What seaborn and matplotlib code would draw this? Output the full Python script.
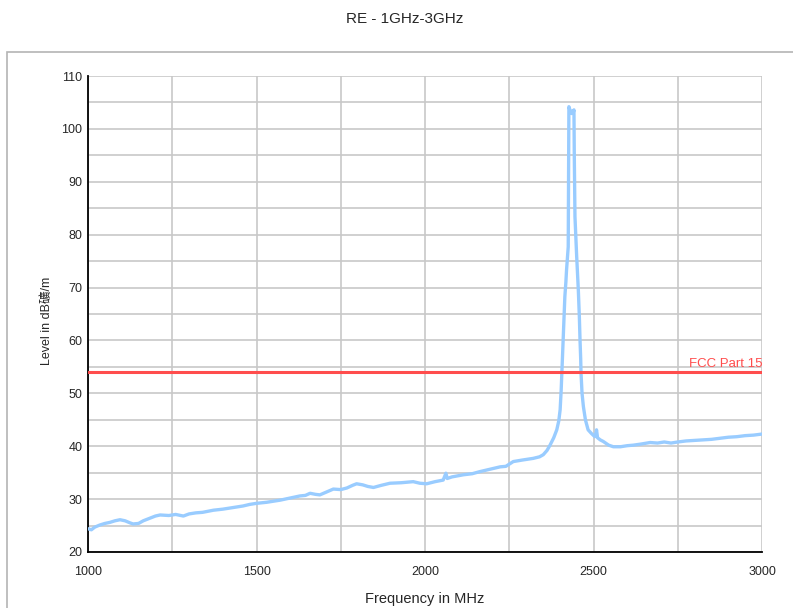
import numpy as np
import pandas as pd
import matplotlib
matplotlib.use('Agg')
import matplotlib.pyplot as plt
import seaborn as sns
from matplotlib.patches import Rectangle

# trace (frequency in MHz, level in dB)
freq = [1000, 1010, 1020, 1035, 1050, 1065, 1080, 1095, 1110, 1125, 1134, 1150, 1164,
        1180, 1200, 1214, 1240, 1260, 1283, 1300, 1320, 1340, 1372, 1400, 1431, 1460,
        1480, 1500, 1530, 1570, 1600, 1629, 1645, 1659, 1675, 1688, 1710, 1728, 1750,
        1768, 1785, 1797, 1815, 1830, 1847, 1870, 1896, 1930, 1965, 1985, 2005, 2030,
        2054, 2062, 2066, 2080, 2114, 2140, 2163, 2190, 2223, 2240, 2262, 2290, 2321,
        2340, 2351, 2362, 2371, 2382, 2391, 2397, 2401, 2404, 2406, 2408, 2410, 2413,
        2415, 2418, 2420, 2423, 2425, 2426, 2427, 2430, 2433, 2435, 2438, 2440, 2442,
        2443, 2445, 2450, 2455, 2458, 2460, 2462, 2463, 2466, 2470, 2476, 2484, 2494,
        2504, 2507, 2509, 2512, 2520, 2529, 2545, 2559, 2580, 2600, 2618, 2640, 2668,
        2690, 2710, 2730, 2750, 2775, 2800, 2825, 2850, 2875, 2900, 2925, 2950, 2975, 3000]
level = [24.4, 24.2, 24.7, 25.1, 25.4, 25.6, 25.9, 26.1, 25.9, 25.5, 25.3, 25.4, 25.9,
         26.3, 26.8, 27.0, 26.9, 27.1, 26.8, 27.2, 27.4, 27.5, 27.9, 28.1, 28.4, 28.7,
         29.0, 29.2, 29.4, 29.8, 30.2, 30.6, 30.7, 31.1, 30.9, 30.8, 31.4, 31.9, 31.8,
         32.1, 32.6, 32.9, 32.7, 32.4, 32.2, 32.6, 33.0, 33.1, 33.3, 33.0, 32.9, 33.3,
         33.6, 34.9, 33.9, 34.2, 34.6, 34.8, 35.2, 35.6, 36.1, 36.2, 37.1, 37.4, 37.7,
         38.0, 38.4, 39.2, 40.2, 41.6, 43.1, 44.8, 46.9, 50.5, 53.8, 57.5, 60.7, 65.0,
         68.3, 71.0, 73.3, 75.8, 77.7, 90.0, 104.2, 103.6, 103.0, 102.9, 103.4, 103.1, 103.6,
         95.0, 83.4, 76.0, 69.5, 64.5, 60.1, 56.5, 53.8, 50.0, 47.5, 45.0, 43.1, 42.4,
         41.8, 42.4, 43.1, 41.6, 41.2, 40.9, 40.2, 39.9, 39.9, 40.1, 40.2, 40.4, 40.7,
         40.6, 40.8, 40.6, 40.8, 41.0, 41.1, 41.2, 41.3, 41.5, 41.7, 41.8, 42.0, 42.1, 42.3]
limit_level = 54
limit_name = 'FCC Part 15'

df = pd.DataFrame({'Frequency': freq, 'Level': level})

sns.set_style('white')
plt.rcParams['font.family'] = ['Liberation Sans', 'Noto Sans CJK SC', 'DejaVu Sans']

fig = plt.figure(figsize=(7.93, 6.08), dpi=100)
fig.patches.append(Rectangle((7 / 793, -0.1), 1.2, 1 - 52 / 608 + 0.1, transform=fig.transFigure,
                             fill=False, edgecolor='#b4b4b4', linewidth=1.2))
ax = fig.add_axes([88 / 793, 1 - 552 / 608, (762 - 88) / 793, (552 - 76) / 608])

sns.lineplot(data=df, x='Frequency', y='Level', ax=ax, color='#99ccff',
             linewidth=2.4, sort=False, zorder=3)
ax.axhline(limit_level, color='#ff4d4d', linewidth=2.2, zorder=4)
ax.text(3000, limit_level + 0.4, limit_name, color='#ff4d4d', ha='right', va='bottom', fontsize=9.5)

ax.set_xlim(1000, 3000)
ax.set_ylim(20, 110)
ax.set_xticks(np.arange(1000, 3001, 500))
ax.set_xticks(np.arange(1000, 3001, 250), minor=True)
ax.set_yticks(np.arange(20, 111, 10))
ax.set_yticks(np.arange(20, 111, 5), minor=True)
ax.grid(True, which='both', color='#c8c8c8', linewidth=1.2, zorder=0)
ax.set_axisbelow(True)
for s in ['top', 'right']:
    ax.spines[s].set_visible(False)
for s in ['left', 'bottom']:
    ax.spines[s].set_color('black')
    ax.spines[s].set_linewidth(1.3)
ax.tick_params(which='both', direction='inout', length=8, width=1.2, color='black',
               labelsize=9)
ax.tick_params(axis='y', pad=0)
ax.tick_params(axis='x', pad=6)

ax.set_xlabel('Frequency in MHz', fontsize=10.5, labelpad=10)
ax.set_ylabel('Level in dB礦/m', fontsize=9)
ax.yaxis.set_label_coords(-0.052, 0.485)
fig.suptitle('RE - 1GHz-3GHz', x=405 / 793, y=1 - 19 / 608, va='center', fontsize=11)

plt.savefig('out.png', dpi=100)
